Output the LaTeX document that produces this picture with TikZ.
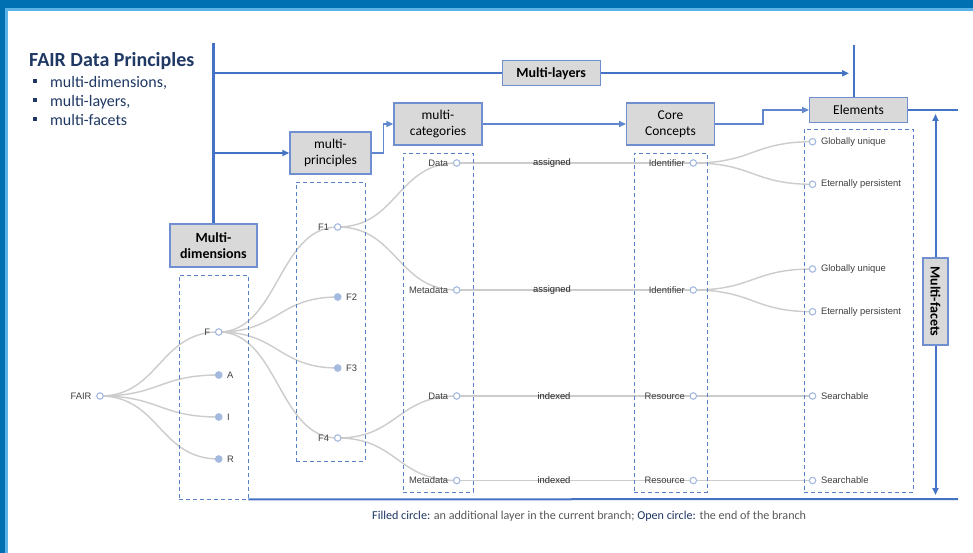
\documentclass[tikz,border=0pt]{standalone}
\usepackage{fontspec}
\setmainfont{Carlito}
\newfontfamily\helv{Liberation Sans}
\usetikzlibrary{calc,arrows.meta}
\definecolor{navy}{HTML}{1F3864}
\definecolor{lineblue}{HTML}{4472C4}
\definecolor{boxblue}{HTML}{6F8FD0}
\definecolor{boxfill}{HTML}{D9D9D9}
\definecolor{circblue}{HTML}{A4B9DE}
\definecolor{edgegrey}{HTML}{CCCCCC}
\definecolor{framedark}{HTML}{0070B3}
\definecolor{framelight}{HTML}{5CB3E8}
\definecolor{lblgrey}{HTML}{404040}
\definecolor{capgrey}{HTML}{595959}
\pgfdeclarelayer{background}
\pgfsetlayers{background,main}
\tikzset{
 gbox/.style={draw=boxblue, fill=boxfill, line width=1.4pt, align=center, inner sep=0pt, font=\fontsize{13.5}{16}\selectfont},
 bbox/.style={gbox, font=\bfseries\fontsize{14}{16}\selectfont},
 dbox/.style={draw=lineblue!90, dash pattern=on 4pt off 3pt, line width=0.9pt, inner sep=0pt},
 bigline/.style={draw=lineblue, line width=2.6pt},
 midline/.style={draw=lineblue, line width=2pt},
 thinline/.style={draw=lineblue!85, line width=1.5pt},
 tip/.style={-{Triangle[length=7pt,width=6pt]}},
 opn/.style={circle, draw=circblue, fill=white, line width=1.1pt, minimum size=6.5pt, inner sep=0pt},
 fil/.style={circle, draw=circblue, fill=circblue, line width=1.1pt, minimum size=6.5pt, inner sep=0pt},
 lbl/.style={font=\helv\fontsize{9.4}{10}\selectfont, text=lblgrey, inner sep=0.5pt},
 elbl/.style={lbl, text=black!85},
 L/.style={label={[lbl,label distance=4pt]left:#1}},
 R/.style={label={[lbl,label distance=4pt]right:#1}},
 tedge/.style={draw=edgegrey, line width=1.4pt},
 bullettext/.style={anchor=base west, inner sep=0pt, font=\fontsize{16}{19}\selectfont, text=navy},
 bsq/.style={fill=navy, minimum size=4pt, inner sep=0pt},
}
\newcommand\tlink[2]{\draw[tedge] let \p1=(#1.center), \p2=(#2.center) in (\p1) .. controls ({0.5*\x1+0.5*\x2},\y1) and ({0.5*\x1+0.5*\x2},\y2) .. (\p2);}
\begin{document}
\begin{tikzpicture}[x=1pt,y=-1pt]
\useasboundingbox (0,0) rectangle (973,553);
% tree nodes
\node[opn,L=FAIR] (fair) at (100,396) {};
\node[opn,L=F] (nF) at (218.7,332) {};
\node[fil,R=A] (nA) at (218.7,375) {};
\node[fil,R=I] (nI) at (218.7,417) {};
\node[fil,R=R] (nR) at (218.7,459) {};
\node[opn,L=F1] (f1) at (337.7,227) {};
\node[fil,R=F2] (f2) at (337.7,297) {};
\node[fil,R=F3] (f3) at (337.7,368) {};
\node[opn,L=F4] (f4) at (337.7,438) {};
\node[opn,L=Data] (d1) at (456.7,163) {};
\node[opn,L=Metadata] (m1) at (456.7,290) {};
\node[opn,L=Data] (d2) at (456.7,396) {};
\node[opn,L=Metadata] (m2) at (456.7,480.5) {};
\node[opn,L=Identifier] (i1) at (693.3,163) {};
\node[opn,L=Identifier] (i2) at (693.3,290) {};
\node[opn,L=Resource] (r1) at (693.3,396) {};
\node[opn,L=Resource] (r2) at (693.3,480.5) {};
\node[opn,R=Globally unique] (g1) at (812.5,141.7) {};
\node[opn,R=Eternally persistent] (e1) at (812.5,184.3) {};
\node[opn,R=Globally unique] (g2) at (812.5,269) {};
\node[opn,R=Eternally persistent] (e2) at (812.5,311.7) {};
\node[opn,R=Searchable] (sr1) at (812.5,396) {};
\node[opn,R=Searchable] (sr2) at (812.5,480.5) {};
\node[elbl] (as1) at (552,163) {assigned};
\node[elbl] (as2) at (552,290) {assigned};
\node[elbl] (ix1) at (554,396) {indexed};
\node[elbl] (ix2) at (554,480.5) {indexed};
% dashed boxes
\node[dbox, minimum width=69pt, minimum height=224pt] (dimbox) at (213.5,387) {};
\node[dbox, minimum width=69pt, minimum height=279pt] (prinbox) at (330.5,321.5) {};
\node[dbox, minimum width=70pt, minimum height=339pt] (catbox) at (438,322.5) {};
\node[dbox, minimum width=73pt, minimum height=339pt] (corebox) at (670.5,322.5) {};
\node[dbox, minimum width=109pt, minimum height=363pt] (elembox) at (858.5,310.5) {};
% grey boxes
\node[bbox, minimum width=98pt, minimum height=25pt] (mlayers) at (551.2,73.3) {Multi-layers};
\node[gbox, minimum width=81pt, minimum height=42pt] (mprin) at (330.5,153) {multi-\\principles};
\node[gbox, minimum width=88pt, minimum height=42pt] (mcat) at (438,124) {multi-\\categories};
\node[gbox, minimum width=87.5pt, minimum height=42pt] (core) at (670.5,124) {Core\\Concepts};
\node[gbox, minimum width=97.5pt, minimum height=25pt] (elem) at (858.5,110) {Elements};
\node[bbox, minimum width=87pt, minimum height=43pt] (mdim) at (213.5,245.5) {Multi-\\dimensions};
\node[bbox, minimum width=25pt, minimum height=87pt] (mfac) at (935.5,301.5) {\rotatebox{-90}{Multi-facets}};
% title
\node[anchor=base west, inner sep=0pt, font=\bfseries\fontsize{20}{24}\selectfont, text=navy] (title) at (29,67) {FAIR Data Principles};
\node[bullettext] (b1) at (50,87.5) {multi-dimensions,};
\node[bullettext] (b2) at (50,106.5) {multi-layers,};
\node[bullettext] (b3) at (50,125.5) {multi-facets};
\node[bsq] (bq1) at (35,81) {};
\node[bsq] (bq2) at (35,100) {};
\node[bsq] (bq3) at (35,119) {};
% caption
\node[anchor=base west, inner sep=0pt, font=\fontsize{12.1}{14}\selectfont, text=capgrey] (cap) at (372,519) {\textcolor{navy}{Filled circle:} an additional layer in the current branch; \textcolor{navy}{Open circle:} the end of the branch};
% coordinates
\coordinate (vtop) at (213.5,43);
\coordinate (j1) at (213.5,73.3);
\coordinate (j2) at (213.5,153);
\coordinate (mlend) at (849,73.3);
\coordinate (etop) at (854,45);
\coordinate (elemr) at (958,110);
\coordinate (botr) at (958,499);
\coordinate (mfup) at (935.5,114);
\coordinate (mfdn) at (935.5,495);
% blue structure
\draw[bigline] (vtop) -- (mdim.north);
\draw[midline] (j1) -- (mlayers.west);
\draw[midline,tip] (mlayers.east) -- (mlend);
\draw[midline,tip] (j2) -- (mprin.west);
\draw[thinline,tip] (mprin.east) -- ++(12,0) |- (mcat.west);
\draw[thinline,tip] (mcat.east) -- (core.west);
\draw[thinline,tip] (core.east) -- ++(48,0) |- (elem.west);
\draw[bigline] (etop) -- (etop |- elem.north);
\draw[midline] (elem.east) -- (elemr);
\draw[midline] (dimbox.south east) -- (botr);
\draw[midline,tip] (mfac.north) -- (mfup);
\draw[midline,tip] (mfac.south) -- (mfdn);
\begin{pgfonlayer}{background}
\fill[white] (0,0) rectangle (973,553);
\fill[framedark] (0,0) rectangle (973,8);
\fill[framedark] (0,0) rectangle (5.3,553);
\fill[framelight] (5.3,8) rectangle (973,11.3);
\fill[framelight] (5.3,8) rectangle (7.8,553);
\tlink{fair}{nF}\tlink{fair}{nA}\tlink{fair}{nI}\tlink{fair}{nR}
\tlink{nF}{f1}\tlink{nF}{f2}\tlink{nF}{f3}\tlink{nF}{f4}
\tlink{f1}{d1}\tlink{f1}{m1}\tlink{f4}{d2}\tlink{f4}{m2}
\tlink{d1}{i1}\tlink{m1}{i2}\tlink{d2}{r1}\tlink{m2}{r2}
\tlink{i1}{g1}\tlink{i1}{e1}\tlink{i2}{g2}\tlink{i2}{e2}
\tlink{r1}{sr1}\tlink{r2}{sr2}
\end{pgfonlayer}
\end{tikzpicture}
\end{document}
